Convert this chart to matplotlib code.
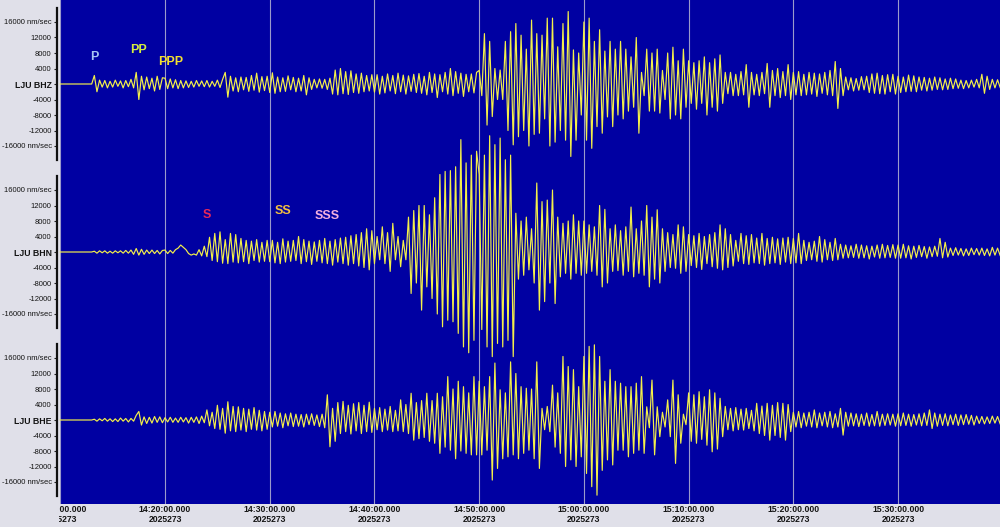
import numpy as np
import matplotlib
matplotlib.use("Agg")
import matplotlib.pyplot as plt
from matplotlib.transforms import Bbox, TransformedBbox

# ---------------- data (thousands of nm/sec, one extreme every 15 s from 14:10:00) -------------
STEP_S = 15

bhz = [
    0, 0, 0, 0, 0, 0, 0, 0, 0, 0,
    0, 0, 0, 2.2, -2, 1, -0.8, 0.9, -1, 0.7,
    -0.8, 1, -0.6, 0.8, -1, 0.9, -0.7, 1.2, -1, 3,
    -4, 2, -1.5, 1.8, -1.2, 1.5, -1.8, 2, -1.4, 1.6,
    1.5, -1.2, 1.3, -1, 1.1, -1.2, 0.9, -1, 0.8, -0.9,
    0.7, -0.8, 0.9, -0.6, 0.8, -0.7, 0.9, -0.8, 0.7, -0.6,
    1, -0.9, 1.2, 3, -3.4, 2, -1.8, 1.6, -2, 1.8,
    -1.5, 1.7, -1.9, 2.2, -1.6, 2.8, -2.1, 1.9, -1.7, 2.0,
    -2.2, 2.9, -2.4, 1.8, -2, 1.6, -1.9, 2.1, -1.5, 1.7,
    -2, 1.5, -1.8, 2.2, -2.8, 1.6, -1.4, 1.2, -1, 1.3,
    -1.1, 1.2, -1.4, 1.5, -2.6, 3.6, -2.8, 4, -2.5, 3.2,
    -2.7, 3.4, -2.2, 2.6, -2.4, 2.8, -2, 2.2, -1.8, 2.4,
    -2.1, 2.4, -2.6, 2, -2.3, 2.6, -1.8, 2.2, -2.5, 2.8,
    -2, 2.3, -2.6, 2.1, -1.9, 2.5, -2.2, 2.7, -2.4, 2,
    -2.8, 3, -2.2, 2.6, -3.5, 2.4, -2, 3, -2.6, 4,
    -3, 3.2, -2.4, 2.8, -3.2, 2.5, -2, 2.6, -2.3, 3,
    3.5, -3, 13, -10.6, 11, -8.4, 4, -4, 3.6, -4,
    11, -12, 13.5, -15.7, 15.6, -13.6, 12.6, -12, 9, -16,
    16.5, -13, 13, -12.7, 12.6, -9, 17, -16, 17, -15,
    9.6, -12, 15.6, -14.5, 18.7, -18.7, 8.8, -14.5, 8, -8,
    16, -14.5, 17, -16.6, 11, -11, 14, -12.7, 8.5, -8.5,
    11, -11, 9, -8, 11, -9, 9, -7, 7, -6,
    12, -12.7, 3, -3, 9, -7, 8, -7, 9, -7.5,
    3.5, -4, 8, -9, 9.5, -8, 6, -9, 9, -6,
    6, -5, 5.5, -6.5, 6, -5, 7, -8, 5.5, -6,
    6.5, -7, 7.5, -5, 3, -2.5, 3, -3, 2.5, -3,
    3.2, -2.8, 5, -6, 3, -2.8, 2.5, -3, 3, -2.5,
    5.3, -6, 3.5, -3, 4, -3.5, 3.2, -3, 5, -4,
    3, -2.8, 3.2, -3, 2.5, -2.8, 3, -2.6, 2.8, -3.2,
    2.6, -2.4, 3, -2.8, 3.5, -3, 5.8, -6.3, 4, -3,
    1.8, -1.5, 1.6, -1.8, 1.4, -1.6, 1.9, -1.5, 2, -2.2,
    2.6, -2.4, 2.8, -2.5, 2.2, -2.6, 2.4, -2, 2.5, -2.6,
    2, -2.2, 1.8, -2, 2.3, -1.9, 2.1, -2, 1.8, -1.6,
    1.7, -1.8, 1.5, -1.6, 1.8, -1.4, 1.6, -1.5, 1.3, -1.4,
    1.5, -1.2, 1.3, -1.1, 1, -1.2, 0.9, -1, 1, -0.8,
    1.2, -1, 2.5, -2.4, 2, -1.4, 1.2, -1, 1.1, -0.9,
]

bhn = [
    0, 0, 0, 0, 0, 0, 0, 0, 0, 0,
    0, 0, 0, 0.2, -0.3, 0.3, -0.2, 0.3, -0.3, 0.2,
    -0.3, 0.3, -0.2, 0.3, -0.3, 0.4, -0.3, 0.5, -0.6, 0.9,
    -0.8, 0.7, -0.6, 0.5, -0.4, 0.5, -0.4, 0.4, -0.5, 0.4,
    0.5, -0.4, 0.4, -0.3, 0.6, 1, 1.8, 1.2, 0.6, -0.4,
    -0.8, -0.5, -0.8, 0.6, -1, 1.5, -1.2, 3.8, -2.2, 4.8,
    -2.5, 5.2, -2.9, 3.2, -3, 4.8, -2.6, 4.5, -2.8, 3.5,
    -2.5, 3, -3, 2.8, -2.2, 3.2, -2.6, 2.5, -2.4, 3,
    -2.5, 3, -2.8, 2.5, -3, 3.4, -2.6, 2.8, -2.4, 3,
    -2.2, 4, -3, 3.2, -2.5, 2.8, -3.2, 2.6, -2.4, 3,
    -2.8, 3.5, -3, 2.8, -3.4, 3.2, -2.6, 3.6, -3, 3.8,
    -3.4, 4.2, -3, 4.5, -3.6, 5, -4, 6, -4.6, 5.5,
    -3, 4, -2, 6.5, -3, 5, -5, 7.4, -2, 4,
    -3.8, 3, -2, 9, -10.7, 10.7, -8, 12, -15, 12,
    -9, 9.6, -12, 14, -16, 20, -19.3, 20.8, -17.6, 21,
    -18, 22, -21, 29, -24.5, 23, -26, 25, -22.8, 26,
    20, -20, 25, -24.5, 30, -27, 27.7, -23.6, 29.4, -24.5,
    23.8, -22.8, 25, -27, 10, -7, 8, -6, 9, -4.6,
    6, -8, 17.8, -15, 13, -12.8, 13.4, -8, 16, -13.3,
    9, -6.4, 7.4, -5.5, 8, -7, 9.6, -5.5, 8, -6,
    8, -5.5, 7, -5, 6.5, -6, 12, -9, 11, -8,
    6, -5, 7, -4.8, 5.5, -6, 6.5, -5, 11.6, -6.4,
    6, -5.5, 8, -6, 12, -9, 9, -7, 10.9, -8,
    6, -5, 5, -4, 4.5, -4.2, 7, -5.5, 6.5, -5,
    4.5, -3.5, 4.2, -4, 4.8, -4.5, 4, -3, 4.5, -3.8,
    5, -4.2, 7, -4.6, 6, -4, 4.5, -3.6, 3, -2.4,
    4.8, -3, 4.2, -3.2, 4.5, -2.8, 3.6, -3, 4.8, -3.4,
    3.5, -3, 3.8, -2.8, 3.4, -3.2, 3.6, -2.6, 3.8, -3,
    3.5, -2.8, 4.8, -3, 3, -2.2, 2.5, -2, 2.8, -2.4,
    4, -2.6, 3.2, -2, 2.5, -2.2, 3.5, -2, 2, -1.6,
    1.8, -1.5, 1.6, -1.4, 2, -1.6, 1.8, -1.5, 1.6, -1.8,
    1.5, -1.3, 1.8, -1.6, 2, -1.5, 1.7, -1.4, 1.9, -1.6,
    1.8, -1.6, 2, -1.5, 1.6, -1.8, 1.5, -1.4, 1.7, -1.2,
    1.4, -1.6, 1.3, -1.2, 1.5, -1.1, 3.5, -1.5, 2.5, -1.3,
    1, -0.9, 1.1, -0.8, 0.9, -1, 0.8, -0.9, 1, -0.7,
    0.9, -0.8, 1, -0.9, 0.8, -1, 1.2, -0.8, 1, -0.9,
]

bhe = [
    0, 0, 0, 0, 0, 0, 0, 0, 0, 0,
    0, 0, 0, 0.2, -0.3, 0.3, -0.2, 0.4, -0.3, 0.3,
    -0.4, 0.3, -0.4, 0.5, -0.3, 0.4, -0.5, 0.4, -0.3, 1.2,
    2.2, -1.3, 0.8, -0.9, 0.7, -0.8, 0.9, -0.6, 0.8, -0.7,
    0.6, -0.5, 0.7, -0.6, 0.5, -0.6, 0.7, -0.5, 0.6, -0.8,
    0.7, -0.6, 0.8, -0.9, 1, -0.7, 2.6, -1.5, 2, -2.2,
    3.8, -2.4, 3, -3.4, 4.7, -2.8, 3.5, -3, 3.4, -2.6,
    3, -3, 2.8, -2.4, 3.2, -2.6, 2.5, -2.8, 2.2, -2.4,
    2, -1.8, 2.2, -1.6, 1.8, -2, 1.6, -1.5, 1.8, -1.7,
    1.5, -1.6, 1.4, -1.8, 1.5, -1.2, 1.6, -1.4, 1.3, -1.7,
    1.5, -2, 6.5, -6.9, 3, -5.5, 4.5, -3.5, 4.8, -3,
    3.8, -3.6, 4.2, -2.8, 4.5, -3.5, 3.8, -3, 4.6, -3.2,
    3, -2.5, 3.2, -3, 2.8, -2.6, 3.5, -3, 2.5, -2.8,
    5.2, -3, 4, -3.5, 6.9, -5.2, 4.5, -4.8, 5, -4.5,
    6.9, -5.5, 5, -6, 6.9, -8.6, 6, -7, 11.2, -7.8,
    8, -10, 10, -8, 8.6, -8.6, 7, -9, 11.2, -9,
    10, -9, 8.6, -7.8, 11.2, -15.5, 14.7, -12.5, 7.8, -10,
    7, -9.5, 15, -9, 12, -10, 8.6, -8.6, 8.2, -7.8,
    8, -10, 15, -12.5, 3, -2.5, 3.5, -3, 9, -7,
    7, -8.6, 16.4, -12, 13.8, -10.3, 13, -12, 8.6, -9.5,
    16.4, -13.8, 19, -17.2, 19.4, -19.4, 16.4, -13, 10, -10.3,
    13, -11.6, 10, -7.8, 9.5, -7.8, 8.6, -9.5, 8.6, -8.6,
    9.5, -7.8, 11.2, -8.6, 3.4, -2, 10.3, -9, 3.4, -4.3,
    2, -1.8, 5.2, -4.3, 10.3, -11.2, 6.5, -6, 1.5, -1.2,
    7, -5.5, 6.5, -6, 7.3, -5, 6, -6.5, 7.8, -8.2,
    7, -7.5, 5.6, -4.3, 3.5, -2.5, 3, -2.8, 3.2, -2.5,
    2.8, -2.6, 3, -2.2, 2.5, -2.8, 4.3, -3.5, 3.6, -4,
    4.3, -5.2, 3.8, -4, 4.5, -4.5, 4.3, -5.2, 4, -3,
    2, -1.8, 2.2, -2, 1.8, -1.6, 2, -1.8, 2.6, -2,
    1.8, -1.5, 2, -1.8, 2.2, -2, 1.6, -1.8, 3, -3.9,
    2, -1.6, 1.8, -1.5, 1.6, -1.7, 1.5, -1.4, 1.8, -1.6,
    1.4, -1.5, 2.2, -1.6, 1.5, -1.4, 1.6, -1.3, 1.5, -1.6,
    1.6, -1.5, 1.8, -1.4, 1.5, -1.6, 1.4, -1.3, 1.6, -1.5,
    1.8, -1.4, 2.6, -2.2, 1.8, -1.6, 1.5, -1.4, 1.6, -1.5,
    1.3, -1.2, 1.5, -1.4, 1.3, -1.2, 1.4, -1.1, 1.2, -1.3,
    1, -0.9, 0.9, -1, 0.8, -0.9, 1, -0.8, 0.9, -1,
]

channels = ["LJU BHZ", "LJU BHN", "LJU BHE"]
traces = [bhz, bhn, bhe]

ytick_values = [16000, 12000, 8000, 4000, 0, -4000, -8000, -12000, -16000]
xtick_minutes = [0, 10, 20, 30, 40, 50, 60, 70, 80]
xtick_labels = ["14:10:00.000\n2025273", "14:20:00.000\n2025273", "14:30:00.000\n2025273",
                "14:40:00.000\n2025273", "14:50:00.000\n2025273", "15:00:00.000\n2025273",
                "15:10:00.000\n2025273", "15:20:00.000\n2025273", "15:30:00.000\n2025273"]

# phase picks: (label, trace index, seconds after 14:10:00, nm/sec, colour)
phase_names = ["P", "PP", "PPP", "S", "SS", "SSS"]
phase_trace = [0, 0, 0, 1, 1, 1]
phase_time_s = [195, 450, 630, 840, 1278, 1530]
phase_level = [7000, 8800, 5700, 9500, 10700, 9200]
phase_colors = ["#a8c4f4", "#d4ee40", "#f4e030", "#e8285a", "#f4c040", "#f4b0e0"]

# ---------------- style ----------------
FIG_BG = "#e0e0e9"
PLOT_BG = "#0000a2"
TRACE_C = "#f4f04a"
GRID_C = "#9a9acb"
TEXT_C = "#141414"

plt.rcParams["font.family"] = ["Liberation Sans", "DejaVu Sans"]

W, H = 1000, 527
fig = plt.figure(figsize=(W / 100, H / 100), dpi=100, facecolor=FIG_BG)

left_px = 60.3
t_end = 5384
band = 168
plot_bottom_px = 504

# blue background panel
bg = fig.add_axes([left_px / W, 1 - plot_bottom_px / H, 1 - left_px / W, plot_bottom_px / H])
bg.set_facecolor(PLOT_BG)
bg.set_xticks([]); bg.set_yticks([])
for s in bg.spines.values():
    s.set_visible(False)
bg.set_zorder(0)

half = band / 2 / 3.875 * 1000  # nm/sec at half band height

axes = []
for k, (name, vals) in enumerate(zip(channels, traces)):
    assert len(vals) == 360, (name, len(vals))
    top_px = k * band
    ax = fig.add_axes([left_px / W, 1 - (top_px + band) / H, 1 - left_px / W, band / H])
    ax.set_zorder(1 + k)
    ax.patch.set_visible(False)
    t = np.arange(len(vals)) * STEP_S
    y = np.asarray(vals, dtype=float) * 1000
    ax.set_xlim(0, t_end)
    ax.set_ylim(-half, half)
    ax.set_xticks([m * 60 for m in xtick_minutes])
    ax.grid(axis="x", color=GRID_C, linewidth=0.8)
    ax.set_axisbelow(True)
    ax.plot(t, y, color=TRACE_C, linewidth=0.85, clip_on=False, zorder=3)

    for s in ["top", "right", "bottom"]:
        ax.spines[s].set_visible(False)
    sp = ax.spines["left"]
    sp.set_position(("outward", 2.2))
    sp.set_bounds(-19600, 19600)
    sp.set_linewidth(1.6)
    sp.set_color("#101010")

    labels = []
    for v in ytick_values:
        if v == 0:
            labels.append(name)
        elif abs(v) == 16000:
            labels.append(f"{v} nm/sec")
        else:
            labels.append(str(v))
    ax.set_yticks(ytick_values, labels)
    ax.tick_params(axis="y", length=2.5, width=0.8, color="#202020", pad=1.5,
                   labelsize=5.5, labelcolor=TEXT_C)
    for lab, v in zip(ax.get_yticklabels(), ytick_values):
        if v == 0:
            lab.set_fontweight("bold")
            lab.set_fontsize(6.3)

    for nm, ti, ts, lv, col in zip(phase_names, phase_trace, phase_time_s, phase_level, phase_colors):
        if ti == k:
            ax.text(ts, lv, nm, color=col, fontsize=9, fontweight="bold",
                    ha="center", va="center", zorder=5)

    if k < 2:
        ax.tick_params(axis="x", length=0, labelbottom=False)
    else:
        ax.set_xticklabels(xtick_labels)
        ax.tick_params(axis="x", length=0, pad=1.0, labelsize=6.2, labelcolor=TEXT_C)
        for lab in ax.get_xticklabels():
            lab.set_fontweight("bold")
            lab.set_linespacing(1.15)
        clip = TransformedBbox(Bbox([[0.59, 0], [10, 5.27]]), fig.dpi_scale_trans)
        first = ax.get_xticklabels()[0]
        first.set_clip_on(True)
        first.set_clip_box(clip)
    axes.append(ax)

fig.savefig("out.png", dpi=100, facecolor=FIG_BG)
